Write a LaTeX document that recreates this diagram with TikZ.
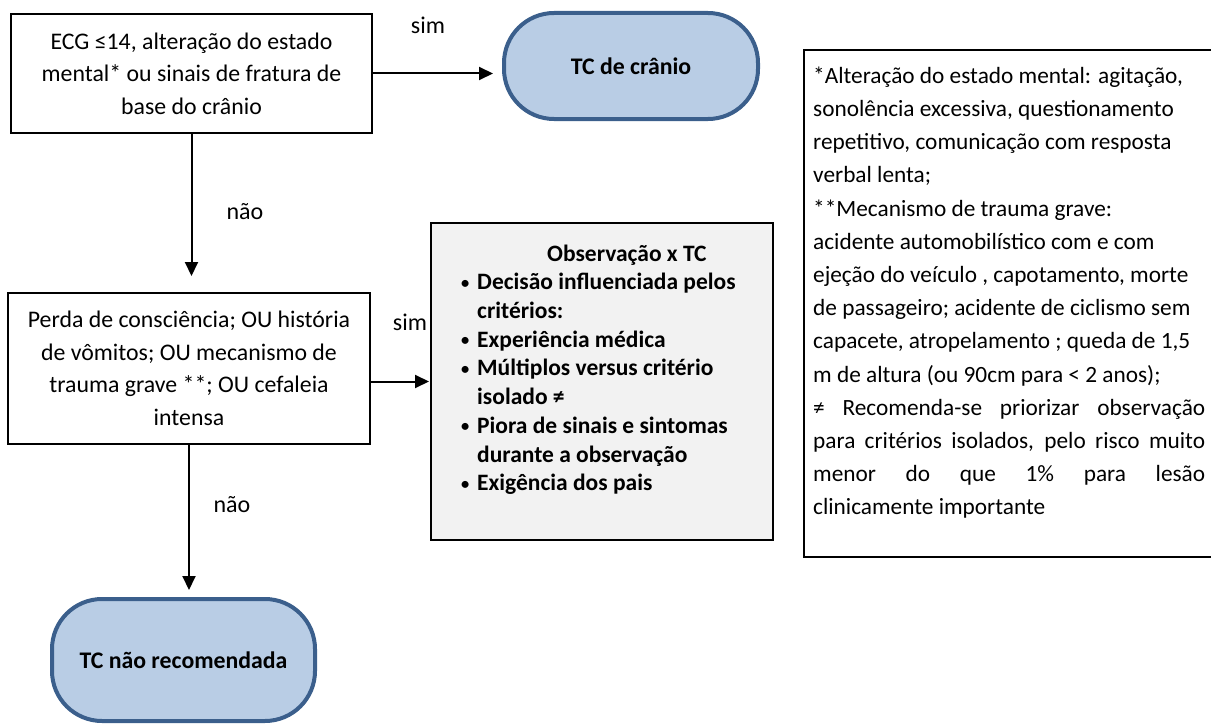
\documentclass[tikz,border=0pt]{standalone}
\usepackage{fontspec}
\setmainfont{Carlito}
\usepackage{graphicx}
\usetikzlibrary{arrows.meta}
\definecolor{tcfill}{HTML}{B9CDE5}
\definecolor{tcline}{HTML}{3B5F8C}
\definecolor{obsfill}{HTML}{F2F2F2}
\newcommand\obul{\makebox[16pt][l]{\raisebox{1.5pt}{\scalebox{0.7}{•}}}}
\newcommand\oind{\hspace*{16pt}}
\newcommand\jl[1]{\makebox[392pt][s]{#1}}
\begin{document}
\begin{tikzpicture}[x=1pt,y=-1pt,
  box/.style={draw=black, line width=2pt, fill=white, inner sep=0pt, align=center,
    font=\fontsize{23.8}{32.5}\selectfont},
  term/.style={draw=tcline, line width=4pt, fill=tcfill, rounded corners=50pt,
    inner sep=0pt, font=\fontsize{23.8}{28}\selectfont\bfseries},
  arr/.style={line width=2pt, -{Triangle[length=14pt,width=13pt]}},
  lbl/.style={font=\fontsize{24}{28}\selectfont, inner sep=0pt},
  ftext/.style={inner sep=0pt, align=left, font=\fontsize{23.3}{33.2}\selectfont},
  otext/.style={inner sep=0pt, align=left, font=\fontsize{23.5}{28.7}\selectfont\bfseries}]
\useasboundingbox (0,0) rectangle (1211,725);

% decision boxes
\node[box, minimum width=361pt, minimum height=119pt] (q1) at (191.5,73.5)
  {ECG ≤14, alteração do estado\\ mental* ou sinais de fratura de\\ base do crânio};
\node[box, minimum width=362pt, minimum height=151pt] (q2) at (189,368.5)
  {Perda de consciência; OU história\\ de vômitos; OU mecanismo de\\ trauma grave **; OU cefaleia\\ intensa};

% terminals
\node[term, minimum width=254pt, minimum height=106pt] (tc1) at (631,66) {TC de crânio};
\node[term, minimum width=263pt, minimum height=122pt] (tc2) at (183.5,660) {TC não recomendada};

% observation box
\node[draw=black, line width=2pt, fill=obsfill, minimum width=342pt, minimum height=317pt,
  inner sep=0pt] (obs) at (602,381.5) {};
\node[otext, anchor=north west] (obst) at (461,244.5)
  {\hspace*{86pt}Observação x TC\\
   \obul Decisão influenciada pelos\\
   \oind critérios:\\
   \obul Experiência médica\\
   \obul Múltiplos versus critério\\
   \oind isolado ≠\\
   \obul Piora de sinais e sintomas\\
   \oind durante a observação\\
   \obul Exigência dos pais};

% footnote box
\node[draw=black, line width=2pt, fill=white, minimum width=409pt, minimum height=507pt,
  inner sep=0pt] (fn) at (1008.5,303.5) {};
\node[ftext, anchor=north west] (fnt) at (813,66.5)
  {*Alteração do estado mental: agitação,\\
   sonolência excessiva, questionamento\\
   repetitivo, comunicação com resposta\\
   verbal lenta;\\
   **Mecanismo de trauma grave:\\
   acidente automobilístico com e com\\
   ejeção do veículo , capotamento, morte\\
   de passageiro; acidente de ciclismo sem\\
   capacete, atropelamento ; queda de 1,5\\
   m de altura (ou 90cm para < 2 anos);\\
   \jl{≠ Recomenda-se priorizar observação}\\
   \jl{para critérios isolados, pelo risco muito}\\
   \jl{menor do que 1\% para lesão}\\
   clinicamente importante};

% connectors
\draw[arr, shorten >=9pt] (q1.east) -- (q1.east -| tc1.west);
\draw[arr, shorten >=16pt] (q1.south) -- (q1.south |- q2.north);
\draw[arr, shorten >=1pt] (q2.east |- obs.west) -- (obs.west);
\draw[arr, shorten >=7pt] (q2.south) -- (q2.south |- tc2.north);

% labels
\node[lbl] (sim1) at (428,25) {sim};
\node[lbl] (nao1) at (245,212) {não};
\node[lbl] (sim2) at (410,322) {sim};
\node[lbl] (nao2) at (232,505) {não};
\end{tikzpicture}
\end{document}
